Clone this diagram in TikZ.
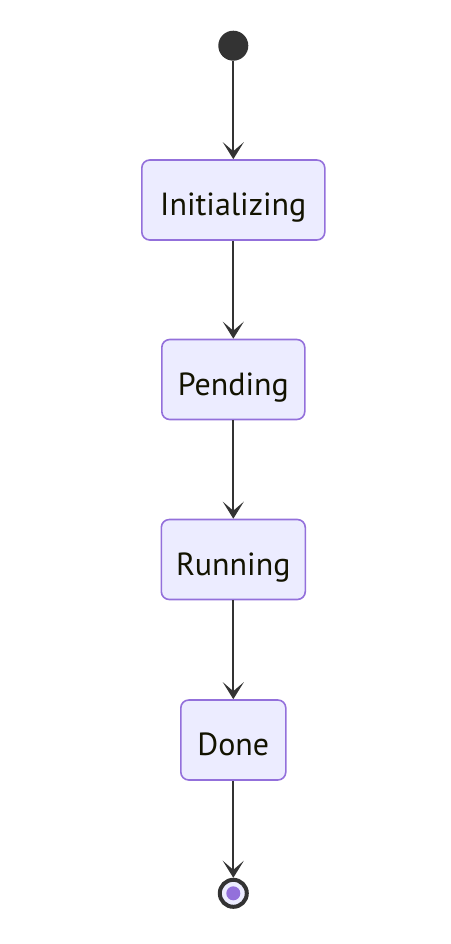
\documentclass[tikz,border=0pt]{standalone}
\usepackage{fontspec}
\setmainfont{PT Sans}
\usetikzlibrary{arrows.meta}
\definecolor{boxfill}{HTML}{ECECFF}
\definecolor{boxline}{HTML}{9370DB}
\definecolor{ink}{HTML}{333333}
\definecolor{txt}{HTML}{131300}
\tikzset{
  x=1pt, y=-1pt,
  state/.style={draw=boxline, fill=boxfill, line width=1.6pt, rounded corners=8pt,
    minimum height=80pt, inner sep=0pt, text=txt, text height=31pt, text depth=0pt,
    font=\fontsize{32}{36}\selectfont},
  flow/.style={draw=ink, line width=2pt, -{Stealth[length=17pt, width=21pt, inset=9pt]}},
}
\begin{document}
\begin{tikzpicture}
\useasboundingbox (0,0) rectangle (450,944);
\node[circle, fill=ink, minimum size=30pt, inner sep=0pt] (start) at (233.3,45.7) {};
\node[state, minimum width=183pt] (init) at (233.3,200) {Initializing};
\node[state, minimum width=143pt] (pend) at (233.3,379.5) {Pending};
\node[state, minimum width=144pt] (run) at (233.3,559.5) {Running};
\node[state, minimum width=105pt] (done) at (233.3,740) {Done};
\node[circle, draw=ink, line width=4pt, fill=boxfill, minimum size=27pt, inner sep=0pt] (end) at (233.3,893.3) {};
\node[circle, fill=boxline, minimum size=14pt, inner sep=0pt] (endin) at (end.center) {};
\draw[flow] (start) -- (init);
\draw[flow] (init) -- (pend);
\draw[flow] (pend) -- (run);
\draw[flow] (run) -- (done);
\draw[flow] (done) -- (end);
\end{tikzpicture}
\end{document}
